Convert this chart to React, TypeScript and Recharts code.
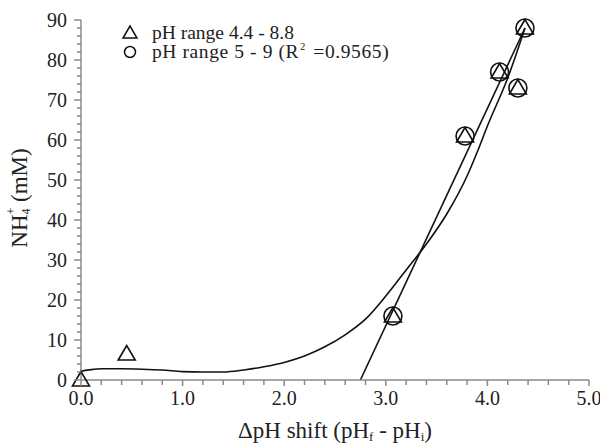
import React from "react";
import { ComposedChart, Scatter, Line, XAxis, YAxis } from "recharts";

// ---- data ----
const triangleX = [0.0, 0.45, 3.07, 3.78, 4.12, 4.3, 4.37];
const triangleY = [0.0, 6.5, 16, 61, 77, 73, 88];
const circleX = [3.07, 3.78, 4.12, 4.3, 4.37];
const circleY = [16, 61, 77, 73, 88];
const curveX = [0, 0.1, 0.2, 0.4, 0.6, 0.8, 1.0, 1.2, 1.4, 1.6, 1.8, 2.0, 2.2, 2.4, 2.6, 2.8, 3.0, 3.2, 3.4, 3.6, 3.8, 3.9, 4.0, 4.2, 4.37];
const curveY = [2.2, 2.6, 2.8, 2.8, 2.7, 2.5, 2.1, 2.0, 2.0, 2.5, 3.3, 4.4, 6.0, 8.3, 11.3, 15.2, 21.0, 27.5, 34.0, 41.5, 51.0, 57.0, 63.5, 75.5, 88.0];
const lineX = [2.75, 4.37];
const lineY = [0, 88];

const legendLabels = ["pH range 4.4 - 8.8", "pH range 5 - 9 (R", "2", " =0.9565)"];

const xMajorTicks = [0, 1, 2, 3, 4, 5];
const xMinorTicks = [0, 0.2, 0.4, 0.6, 0.8, 1, 1.2, 1.4, 1.6, 1.8, 2, 2.2, 2.4, 2.6, 2.8, 3, 3.2, 3.4, 3.6, 3.8, 4, 4.2, 4.4, 4.6, 4.8, 5];
const yMajorTicks = [0, 10, 20, 30, 40, 50, 60, 70, 80, 90];
const yMinorTicks = [0, 2, 4, 6, 8, 10, 12, 14, 16, 18, 20, 22, 24, 26, 28, 30, 32, 34, 36, 38, 40, 42, 44, 46, 48, 50, 52, 54, 56, 58, 60, 62, 64, 66, 68, 70, 72, 74, 76, 78, 80, 82, 84, 86, 88, 90];

const zip = (xs: number[], ys: number[]) => xs.map((x, i) => ({ x, y: ys[i] }));
const triangleData = zip(triangleX, triangleY);
const circleData = zip(circleX, circleY);
const curveData = zip(curveX, curveY);
const lineData = zip(lineX, lineY);

const FONT = "'Liberation Serif', 'Times New Roman', serif";
const AXIS_COLOR = "#8a8a8a";
const TEXT_COLOR = "#222";

const isMajor = (v: number, majors: number[]) => majors.some((m) => Math.abs(m - v) < 1e-6);

const YTick = (props: any) => {
  const { x, y, payload } = props;
  const v = payload.value;
  const major = isMajor(v, yMajorTicks);
  return (
    <g>
      <line x1={x - (major ? 7 : 4)} x2={x} y1={y} y2={y} stroke={AXIS_COLOR} strokeWidth={1.5} />
      {major && (
        <text x={x - 14} y={y} dy="0.35em" textAnchor="end" fontFamily={FONT} fontSize={20} fill={TEXT_COLOR}>
          {v}
        </text>
      )}
    </g>
  );
};

const XTick = (props: any) => {
  const { x, y, payload } = props;
  const v = payload.value;
  const major = isMajor(v, xMajorTicks);
  return (
    <g>
      <line x1={x} x2={x} y1={y} y2={y + (major ? 6 : 5)} stroke={AXIS_COLOR} strokeWidth={1.5} />
      {major && (
        <text x={x} y={y + 18} dy="0.35em" textAnchor="middle" fontFamily={FONT} fontSize={20} fill={TEXT_COLOR}>
          {v.toFixed(1)}
        </text>
      )}
    </g>
  );
};

const Triangle = (props: any) => {
  const { cx, cy } = props;
  if (cx == null || cy == null) return null;
  return (
    <path
      d={`M${cx},${cy - 8.5} L${cx - 8.5},${cy + 6} L${cx + 8.5},${cy + 6} Z`}
      fill="none"
      stroke="#111"
      strokeWidth={1.6}
    />
  );
};

const Circle = (props: any) => {
  const { cx, cy } = props;
  if (cx == null || cy == null) return null;
  return <circle cx={cx} cy={cy} r={9} fill="none" stroke="#111" strokeWidth={1.6} />;
};

const LegendBox = () => (
  <svg
    width={320}
    height={60}
    style={{ position: "absolute", left: 108, top: 18, overflow: "visible" }}
  >
    <path d="M 22,8 L 15,20 L 29,20 Z" fill="none" stroke="#111" strokeWidth={1.5} />
    <text x={44} y={21} fontFamily={FONT} fontSize={19.5} fill={TEXT_COLOR}>
      {legendLabels[0]}
    </text>
    <circle cx={22} cy={34} r={5.5} fill="none" stroke="#111" strokeWidth={1.5} />
    <text x={44} y={40} fontFamily={FONT} fontSize={19.5} fill={TEXT_COLOR} letterSpacing={0.6}>
      {legendLabels[1]}
      <tspan fontSize={10} dy={-8} dx={1}>{legendLabels[2]}</tspan>
      <tspan dy={8} dx={2}>{legendLabels[3]}</tspan>
    </text>
  </svg>
);

const XLabel = (props: any) => {
  const { viewBox } = props;
  const cx = viewBox.x + viewBox.width / 2;
  const y = viewBox.y + 53;
  return (
    <text x={cx} y={y} textAnchor="middle" dominantBaseline="middle" fontFamily={FONT} fontSize={23} fill={TEXT_COLOR}>
      ΔpH shift (pH
      <tspan fontSize={13} dy={5}>f</tspan>
      <tspan dy={-5}> - pH</tspan>
      <tspan fontSize={13} dy={5}>i</tspan>
      <tspan dy={-5}>)</tspan>
    </text>
  );
};

const YLabel = (props: any) => {
  const { viewBox } = props;
  const cx = 22;
  const cy = viewBox.y + viewBox.height / 2 - 2;
  return (
    <text
      x={cx}
      y={cy}
      transform={`rotate(-90, ${cx}, ${cy})`}
      textAnchor="middle"
      dominantBaseline="middle"
      fontFamily={FONT}
      fontSize={23}
      fill={TEXT_COLOR}
    >
      NH
      <tspan fontSize={12} dy={5}>4</tspan>
      <tspan fontSize={12} dx={-6} dy={-15}>+</tspan>
      <tspan dy={10}> (mM)</tspan>
    </text>
  );
};

export default function App() {
  return (
    <div style={{ position: "absolute", left: 0, top: 0, width: 600, height: 446, background: "#fff" }}>
      <ComposedChart width={600} height={446} margin={{ top: 20, right: 11, bottom: 0, left: 0 }}>
        <XAxis
          type="number"
          dataKey="x"
          domain={[0, 5]}
          ticks={xMinorTicks}
          interval={0}
          tickSize={0}
          tickMargin={0}
          tickLine={false}
          tick={<XTick />}
          height={66}
          axisLine={{ stroke: AXIS_COLOR, strokeWidth: 1.5 }}
          label={<XLabel />}
        />
        <YAxis
          type="number"
          dataKey="y"
          domain={[0, 90]}
          ticks={yMinorTicks}
          interval={0}
          tickSize={0}
          tickMargin={0}
          tickLine={false}
          tick={<YTick />}
          width={81}
          axisLine={{ stroke: AXIS_COLOR, strokeWidth: 1.5 }}
          label={<YLabel />}
        />
        <Line
          data={curveData}
          dataKey="y"
          type="monotone"
          stroke="#111"
          strokeWidth={1.6}
          dot={false}
          activeDot={false}
          isAnimationActive={false}
          legendType="none"
        />
        <Line
          data={lineData}
          dataKey="y"
          type="linear"
          stroke="#111"
          strokeWidth={1.6}
          dot={false}
          activeDot={false}
          isAnimationActive={false}
          legendType="none"
        />
        <Scatter data={circleData} dataKey="y" shape={<Circle />} isAnimationActive={false} />
        <Scatter data={triangleData} dataKey="y" shape={<Triangle />} isAnimationActive={false} />
      </ComposedChart>
      <LegendBox />
    </div>
  );
}
